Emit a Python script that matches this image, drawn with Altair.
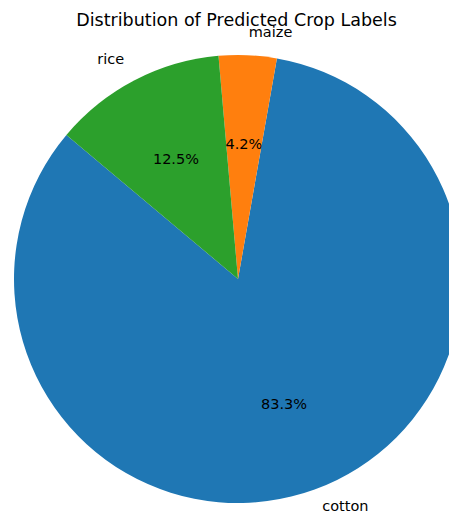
import math
import altair as alt
import pandas as pd

title_text = ["Distribution of Predicted Crop Labels"]
crops = ["cotton", "maize", "rice"]
counts = [20, 1, 3]
colors = ["#1f77b4", "#ff7f0e", "#2ca02c"]

df = pd.DataFrame({"crop": crops, "count": counts})

start = math.radians(-50)
theta_scale = alt.Scale(range=[start, start + 2 * math.pi])

cx, cy, r = 230, 241, 224
font = "DejaVu Sans"

base = alt.Chart(df).transform_joinaggregate(
    total="sum(count)"
).transform_calculate(
    pct="format(datum.count / datum.total * 100, '.1f') + '%'"
).encode(
    theta=alt.Theta("count:Q", stack=True, scale=theta_scale),
    order=alt.Order("crop:N", sort="descending"),
    x=alt.value(cx),
    y=alt.value(cy),
)

arcs = base.mark_arc().encode(
    radius=alt.value(r),
    color=alt.Color("crop:N", scale=alt.Scale(domain=crops, range=colors), legend=None),
)

pct_text = base.mark_text(font=font, fontSize=14.5, color="black", baseline="middle").encode(
    radius=alt.value(r * 0.6),
    text="pct:N",
)

labels = base.mark_text(
    font=font,
    fontSize=14.5,
    color="black",
    baseline="middle",
    align=alt.ExprRef(expr="datum.crop === 'rice' ? 'right' : 'left'"),
    dy=alt.ExprRef(expr="datum.crop === 'cotton' ? -4 : 0"),
).encode(
    radius=alt.value(r * 1.1),
    text="crop:N",
)

title = alt.Chart(pd.DataFrame({"t": title_text})).mark_text(
    font=font, fontSize=17.5, color="black", align="center", baseline="alphabetic"
).encode(
    x=alt.value(228.5),
    y=alt.value(-12),
    text="t:N",
)

chart = alt.layer(arcs, pct_text, labels, title).properties(
    width=441,
    height=475,
    padding={"left": 0, "top": 30, "right": 0, "bottom": 0},
    autosize=alt.AutoSizeParams(type="none"),
).configure_view(stroke=None)

chart.save("out.html", embed_options={"renderer": "svg", "actions": False})
